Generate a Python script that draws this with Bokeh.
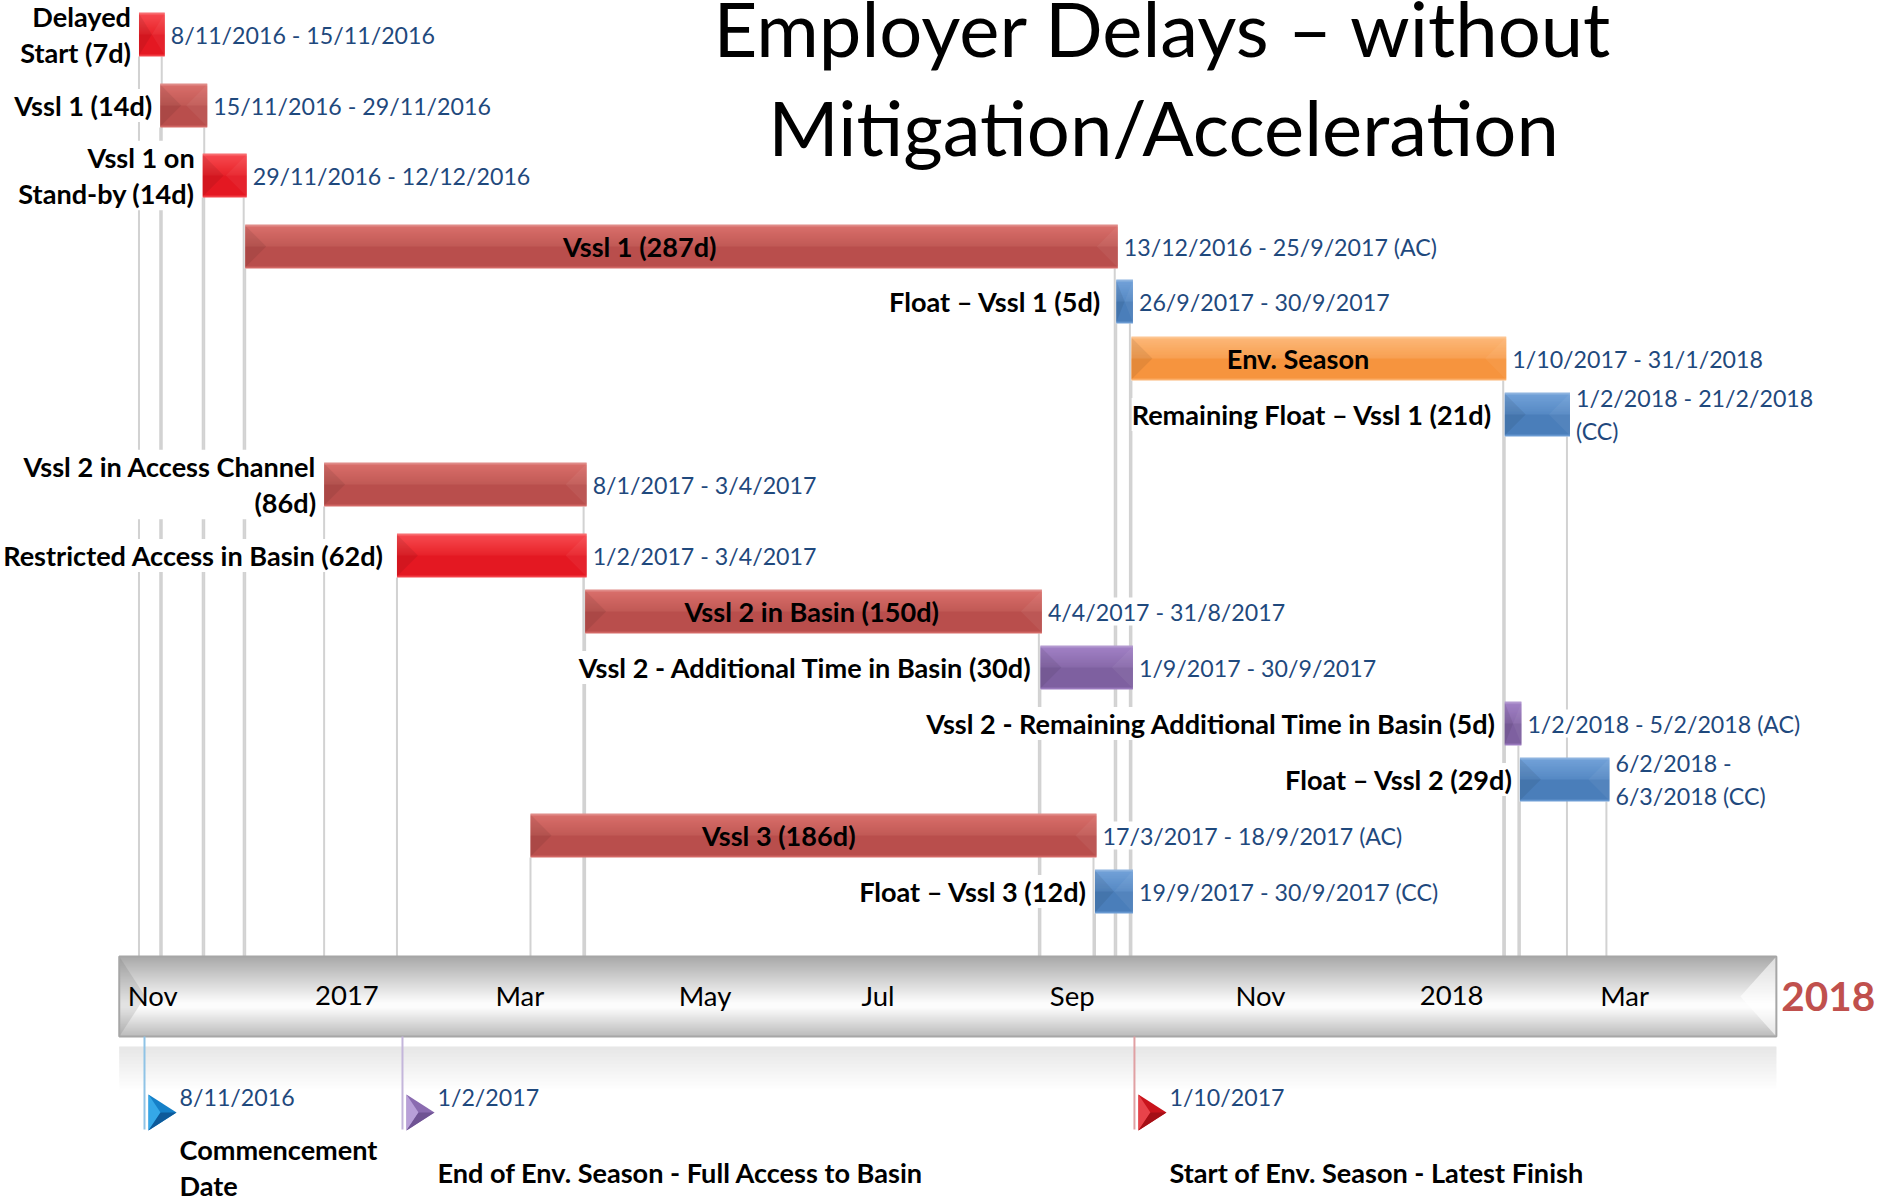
import pandas as pd
from bokeh.plotting import figure
from bokeh.models import Range1d
from bokeh.core.properties import value
from bokeh.embed import file_html
from bokeh.resources import INLINE

# ---------- data ----------
bar_names = ["Delayed\nStart (7d)", "Vssl 1 (14d)", "Vssl 1 on\nStand-by (14d)", "Vssl 1 (287d)",
             "Float – Vssl 1 (5d)", "Env. Season", "Remaining Float – Vssl 1  (21d)",
             "Vssl 2 in Access Channel\n(86d)", "Restricted Access in Basin (62d)", "Vssl 2 in Basin (150d)",
             "Vssl 2 - Additional Time in Basin (30d)", "Vssl 2 - Remaining Additional Time in Basin (5d)",
             "Float – Vssl 2 (29d)", "Vssl 3 (186d)", "Float – Vssl 3 (12d)"]
bar_starts = ["2016-11-08", "2016-11-15", "2016-11-29", "2016-12-13", "2017-09-26", "2017-10-01", "2018-02-01",
              "2017-01-08", "2017-02-01", "2017-04-04", "2017-09-01", "2018-02-01", "2018-02-06", "2017-03-17", "2017-09-19"]
bar_ends = ["2016-11-15", "2016-11-29", "2016-12-12", "2017-09-25", "2017-09-30", "2018-01-31", "2018-02-21",
            "2017-04-03", "2017-04-03", "2017-08-31", "2017-09-30", "2018-02-05", "2018-03-06", "2017-09-18", "2017-09-30"]
bar_ranges = ["8/11/2016 - 15/11/2016", "15/11/2016 - 29/11/2016", "29/11/2016 - 12/12/2016", "13/12/2016 - 25/9/2017 (AC)",
              "26/9/2017 - 30/9/2017", "1/10/2017 - 31/1/2018", "1/2/2018 - 21/2/2018\n(CC)",
              "8/1/2017 - 3/4/2017", "1/2/2017 - 3/4/2017", "4/4/2017 - 31/8/2017",
              "1/9/2017 - 30/9/2017", "1/2/2018 - 5/2/2018 (AC)", "6/2/2018 -\n6/3/2018 (CC)",
              "17/3/2017 - 18/9/2017 (AC)", "19/9/2017 - 30/9/2017 (CC)"]
bar_kinds = ["red", "brick", "red", "brick", "blue", "orange", "blue", "brick", "red", "brick", "purple", "purple", "blue", "brick", "blue"]
name_inside = [False, False, False, True, False, True, False, False, False, True, False, False, False, True, False]

tick_dates = ["2016-11-12", "2017-01-15", "2017-03-13", "2017-05-13", "2017-07-09", "2017-09-11", "2017-11-12", "2018-01-14", "2018-03-12"]
tick_labels = ["Nov", "2017", "Mar", "May", "Jul", "Sep", "Nov", "2018", "Mar"]

mile_dates = ["2016-11-08", "2017-02-01", "2017-10-01"]
mile_date_labels = ["8/11/2016", "1/2/2017", "1/10/2017"]
mile_names = ["Commencement\nDate", "End of Env. Season - Full Access to Basin", "Start of Env. Season - Latest Finish"]

title_lines = ["Employer Delays – without", "Mitigation/Acceleration"]
end_year = "2018"
band_start, band_end = "2016-11-01", "2018-05-01"

# ---------- layout ----------
W, H = 1881, 1203
PXD = 3.035
ORIGIN_PX = 140
row_y = [34, 105, 175, 246, 301, 358, 414, 484, 555, 611, 667, 723, 779, 835, 891]
name_gap = [8, 8, 8, 0, 15, 0, 6, 8, 13, 0, 8, 8, 7, 0, 8]
inside_shift = [0, 0, 0, -41, 0, -20, 0, 0, 0, -1, 0, 0, 0, -34, 0]
mile_shift = [4, 4, 1.5]
BAR_H = 44
BAND_TOP, BAND_BOT = 956, 1036
FONT = value("Lato")
NAME_SIZE = "27.1px"
RANGE_SIZE = "23.2px"
palette = {"red": ((246, 72, 78), (232, 34, 42), (228, 24, 34)), "brick": ((216, 110, 106), (193, 90, 86), (185, 79, 76)),
           "blue": ((113, 160, 215), (86, 137, 196), (75, 126, 186)), "purple": ((160, 128, 196), (136, 106, 170), (126, 96, 160)),
           "orange": ((252, 182, 118), (248, 160, 82), (246, 148, 62))}

DAY = 86400000.0
t0 = pd.Timestamp("2016-11-08")
ms = lambda s: (pd.Timestamp(s) - pd.Timestamp("1970-01-01")) / pd.Timedelta(milliseconds=1)
px = lambda n: n / PXD * DAY  # pixel length in the date axis' units
X0 = ms(t0) - px(ORIGIN_PX)

p = figure(width=W, height=H, x_axis_type="datetime", toolbar_location=None, output_backend="svg",
           x_range=Range1d(X0, X0 + px(W)), y_range=Range1d(H, 0),
           min_border=0, outline_line_color=None)
p.axis.visible = False
p.grid.visible = False

hexc = lambda c: "#%02x%02x%02x" % tuple(int(round(max(0, min(255, v)))) for v in c)
mix = lambda a, b, f: tuple(a[i] + (b[i] - a[i]) * f for i in range(3))


def strips(x0, x1, top, bot, stops):
    """vertical gradient made of one quad per pixel row"""
    n = int(round(bot - top))
    L, R, T, B, C = [], [], [], [], []
    for i in range(n):
        f = (i + .5) / n
        col = stops[-1][1]
        for j in range(len(stops) - 1):
            if stops[j][0] <= f <= stops[j + 1][0]:
                g = (f - stops[j][0]) / (stops[j + 1][0] - stops[j][0])
                col = mix(stops[j][1], stops[j + 1][1], g)
                break
        L.append(x0); R.append(x1)
        T.append(top + i)
        B.append(min(top + i + 1.5, bot))
        C.append(hexc(col))
    p.quad(left=L, right=R, top=T, bottom=B, fill_color=C, line_color=None)


START_PAD = 0.5 * DAY
END_PAD = 1.0 * DAY

# guide lines
gx, gy0, gy1 = [], [], []
for y, s, e in zip(row_y, bar_starts, bar_ends):
    for d in (ms(s) - START_PAD, ms(e)):
        gx.append(d); gy0.append(y + BAR_H / 2); gy1.append(BAND_TOP)
p.segment(x0=gx, x1=gx, y0=gy0, y1=gy1, line_color="#d2d2d2", line_width=2)

# labels that sit outside the bars (white boxes interrupt the guide lines)
idx = [i for i, inside in enumerate(name_inside) if not inside]
p.text(x=[ms(bar_starts[i]) - START_PAD for i in idx], y=[row_y[i] for i in idx], text=[bar_names[i] for i in idx],
       x_offset=[-name_gap[i] for i in idx],
       text_font=FONT, text_font_style="bold", text_font_size=NAME_SIZE, text_color="#000000",
       text_align="right", text_baseline="middle", text_line_height=1.11,
       background_fill_color="white")
# bars
RX = []
for y, s, e, k in zip(row_y, bar_starts, bar_ends, bar_kinds):
    light, midc, base = palette[k]
    x0, x1 = ms(s) - START_PAD, ms(e) + END_PAD
    RX.append(x1)
    t, b = y - BAR_H / 2, y + BAR_H / 2
    edge = mix(light, (255, 255, 255), .2)
    strips(x0, x1, t, b, [(0, edge), (.045, edge), (.05, light), (.49, midc), (.5, base), (.96, base), (.97, light), (1, light)])
    bev = min((x1 - x0) / 2, px(21))
    p.patch([x0, x0 + bev, x0], [t + 1, y, b - 1], fill_color="#000000", fill_alpha=.07, line_color=None)
    p.patch([x1, x1 - bev, x1], [t + 1, y, b - 1], fill_color="#ffffff", fill_alpha=.05, line_color=None)

p.text(x=RX, y=row_y, text=bar_ranges, text_font=FONT, text_font_size=RANGE_SIZE, text_color="#1f497d",
       text_align="left", text_baseline="middle", x_offset=6, text_line_height=1.195,
       background_fill_color="white")
inn = [i for i, inside in enumerate(name_inside) if inside]
p.text(x=[(ms(bar_starts[i]) + ms(bar_ends[i])) / 2 for i in inn], y=[row_y[i] for i in inn],
       text=[bar_names[i] for i in inn], x_offset=[inside_shift[i] for i in inn],
       text_font=FONT, text_font_style="bold", text_font_size=NAME_SIZE, text_color="#000000",
       text_align="center", text_baseline="middle")

# time band
bx0, bx1 = ms(band_start), ms(band_end)
G1, G2, G3 = (168, 168, 168), (252, 252, 252), (186, 186, 186)
strips(bx0, bx1, BAND_TOP, BAND_BOT, [(0, G1), (.58, G2), (.64, G2), (1, G3)])
MID = (BAND_TOP + BAND_BOT) / 2
p.patch([bx0, bx0 + px(26), bx0], [BAND_TOP, MID, BAND_BOT], fill_color="#606060", fill_alpha=.16, line_color=None)
p.patch([bx1, bx1 - px(36), bx1], [BAND_TOP, MID, BAND_BOT], fill_color="#ffffff", fill_alpha=.6, line_color=None)
p.quad(left=[bx0], right=[bx1], top=[BAND_TOP], bottom=[BAND_BOT], fill_color=None,
       line_color="#a6a6a6", line_width=2)
# its reflection
strips(bx0, bx1, BAND_TOP + 90, BAND_TOP + 134, [(0, (230, 230, 230)), (1, (255, 255, 255))])

p.text(x=[ms(d) for d in tick_dates], y=[BAND_TOP + 39] * len(tick_dates), text=tick_labels, text_font=FONT,
       text_font_size="27.5px", text_color="#000000", text_align="center", text_baseline="middle")
p.text(x=[bx1], y=[BAND_TOP + 40], text=[end_year], text_font=FONT, text_font_style="bold", text_font_size="40.5px",
       text_color="#c0504d", text_align="left", text_baseline="middle", x_offset=5)

# milestones
shades = [("#35a8e8", "#1580c8", "#0d5a9a", "#8fc3e6"), ("#b89fd8", "#8a6bb0", "#6f5393", "#c4b6db"),
          ("#e8434a", "#c9141c", "#a50f16", "#e0a0a3")]
TY0, TY1 = 1094, 1130
mx = []
for d, sh, (c1, c2, c3, cl) in zip(mile_dates, mile_shift, shades):
    lx = ms(d) + px(sh)
    mx.append(lx + px(35))
    p.segment(x0=[lx], x1=[lx], y0=[BAND_BOT], y1=[TY1 - 1], line_color=cl, line_width=2)
    a, b, c = lx + px(4), lx + px(16), lx + px(32)
    mid = (TY0 + TY1) / 2
    p.patch([a, c, a], [TY0, mid, TY1], fill_color=c2, line_color=None)
    p.patch([a, b, a], [TY0, mid, TY1], fill_color=c1, line_color=None)
    p.patch([a, c, b], [TY1, mid, mid], fill_color=c3, line_color=None)

p.text(x=mx, y=[1096] * 3, text=mile_date_labels, text_font=FONT, text_font_size=RANGE_SIZE, text_color="#1f497d",
       text_align="left", text_baseline="middle")
p.text(x=mx, y=[1167, 1172, 1172], text=mile_names, text_font=FONT, text_font_style="bold", text_font_size=NAME_SIZE,
       text_color="#000000", text_align="left", text_baseline="middle", text_line_height=1.11)

# title
title_x = X0 + px(1163)
p.text(x=[title_x, title_x], y=[27, 126], text=title_lines, text_font=FONT, text_font_size="76px",
       text_color="#000000", text_align="center", text_baseline="middle")

open("out.html", "w").write(file_html(p, INLINE))
